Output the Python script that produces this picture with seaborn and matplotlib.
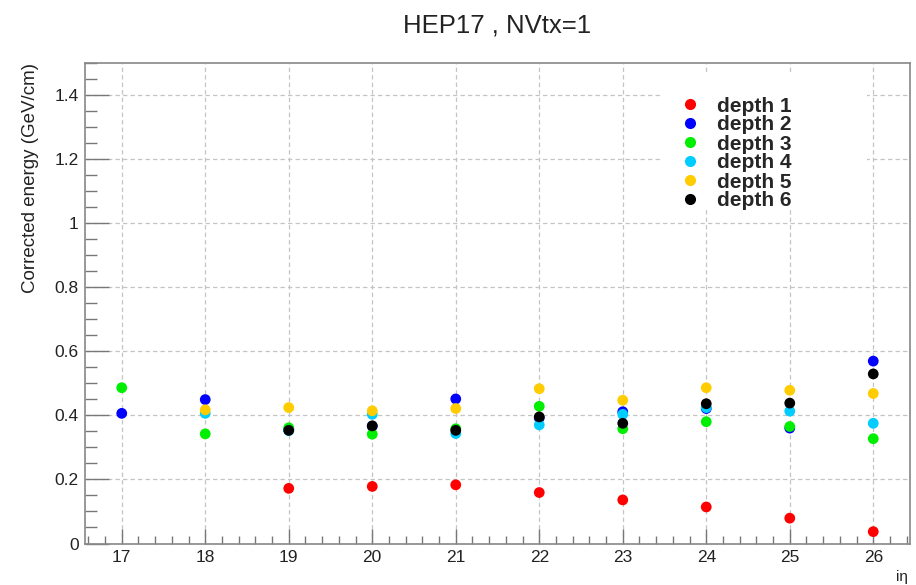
import numpy as np
import pandas as pd
import matplotlib
matplotlib.use("Agg")
import matplotlib.pyplot as plt
from matplotlib.ticker import MultipleLocator, FuncFormatter
from matplotlib.patches import Rectangle
import seaborn as sns

# ---- data ----
ieta = [17, 18, 19, 20, 21, 22, 23, 24, 25, 26]
depth1 = [np.nan, np.nan, 0.172, 0.178, 0.183, 0.159, 0.136, 0.114, 0.079, 0.037]
depth2 = [0.406, 0.449, 0.355, 0.366, 0.451, 0.392, 0.411, 0.421, 0.360, 0.569]
depth3 = [0.486, 0.342, 0.361, 0.341, 0.358, 0.428, 0.358, 0.380, 0.365, 0.327]
depth4 = [np.nan, 0.406, 0.352, 0.403, 0.343, 0.370, 0.403, 0.424, 0.413, 0.375]
depth5 = [np.nan, 0.417, 0.424, 0.414, 0.421, 0.483, 0.447, 0.486, 0.478, 0.468]
depth6 = [np.nan, np.nan, 0.353, 0.367, 0.353, 0.395, 0.375, 0.436, 0.438, 0.529]
series_names = ["depth 1", "depth 2", "depth 3", "depth 4", "depth 5", "depth 6"]
colors = ["#ff0000", "#0000ff", "#00ee00", "#00ccff", "#ffcc00", "#000000"]
title = "HEP17 , NVtx=1"
ylabel = "Corrected energy (GeV/cm)"
xlabel = "iη"

series = [depth1, depth2, depth3, depth4, depth5, depth6]
df = pd.concat(
    [pd.DataFrame({"ieta": ieta, "energy": vals, "depth": name})
     for name, vals in zip(series_names, series)],
    ignore_index=True,
).dropna()

sns.set_theme(style="white")
plt.rcParams["font.family"] = ["Liberation Sans", "DejaVu Sans"]

fig = plt.figure(figsize=(9.16, 5.85), dpi=100)
L, R, B, T = 85 / 916, 910 / 916, 1 - 543.5 / 585, 1 - 62.7 / 585
ax = fig.add_axes([L, B, R - L, T - B])

sns.scatterplot(data=df, x="ieta", y="energy", hue="depth",
                hue_order=series_names, palette=colors,
                s=60, edgecolor="none", linewidth=0, ax=ax, zorder=3)

ax.set_xlim(16.56, 26.44)
ax.set_ylim(0, 1.5)

ax.xaxis.set_major_locator(MultipleLocator(1))
ax.xaxis.set_minor_locator(MultipleLocator(0.2))
ax.yaxis.set_major_locator(MultipleLocator(0.2))
ax.yaxis.set_minor_locator(MultipleLocator(0.05))
ax.yaxis.set_major_formatter(FuncFormatter(lambda v, p: "%g" % round(v, 3)))
ax.xaxis.set_major_formatter(FuncFormatter(lambda v, p: "%d" % round(v)))

tick_col = "#777777"
ax.tick_params(axis="x", which="major", direction="in", length=11, width=1,
               color=tick_col, labelsize=12.5, pad=5, bottom=True, top=False,
               labelcolor="#222222")
ax.tick_params(axis="x", which="minor", direction="in", length=5.5, width=1,
               color=tick_col, bottom=True, top=False)
ax.tick_params(axis="y", which="major", direction="in", length=17.5, width=1,
               color=tick_col, labelsize=12.5, pad=4.5, left=True, right=False,
               labelcolor="#222222")
ax.tick_params(axis="y", which="minor", direction="in", length=8.5, width=1,
               color=tick_col, left=True, right=False)

for sp in ax.spines.values():
    sp.set_color("#888888")
    sp.set_linewidth(1.2)

ax.set_axisbelow(True)
ax.grid(True, which="major", axis="both", color="#c4c4c4", linestyle=(0, (3.5, 2.5)),
        linewidth=0.9)

ax.set_xlabel("")
fig.text(908 / 916, 1 - 577 / 585, xlabel, fontsize=11, color="#222222",
         ha="right", va="center")
ax.set_ylabel(ylabel, fontsize=13.5, color="#222222", loc="top", labelpad=11)
ax.set_title(title, fontsize=18.5, color="#222222", pad=22)

# white legend box (hides the grid behind the legend, as in the reference)
ax.add_patch(Rectangle((0.701, 0.694), 0.247, 0.285, transform=ax.transAxes,
                       facecolor="white", edgecolor="none", zorder=1.5))

handles, labels = ax.get_legend_handles_labels()
if ax.get_legend() is not None:
    ax.get_legend().remove()
for h in handles:
    try:
        h.set_markersize(8)
    except Exception:
        pass
leg = ax.legend(handles, labels, loc="upper left",
                bbox_to_anchor=(682 / 916, 1 - 96.5 / 585),
                bbox_transform=fig.transFigure,
                frameon=False, borderpad=0, borderaxespad=0,
                handlelength=0.8, handletextpad=0.9, labelspacing=0.0,
                prop={"family": "Liberation Sans", "weight": "bold", "size": 15})
leg.set_zorder(5)

fig.savefig("out.png", dpi=100)
